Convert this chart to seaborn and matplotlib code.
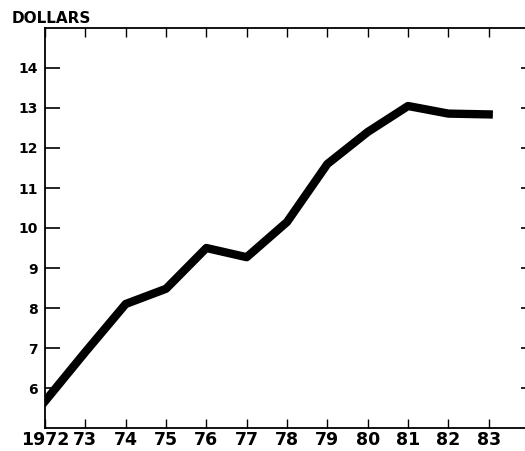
import matplotlib
matplotlib.use("Agg")
import matplotlib.pyplot as plt
import seaborn as sns
import pandas as pd

years = [1972, 1973, 1974, 1975, 1976, 1977, 1978, 1979, 1980, 1981, 1982, 1983]
dollars = [5.67, 6.9, 8.1, 8.48, 9.5, 9.27, 10.15, 11.6, 12.4, 13.05, 12.86, 12.84]
x_tick_labels = ["1972", "73", "74", "75", "76", "77", "78", "79", "80", "81", "82", "83"]
y_ticks = [6, 7, 8, 9, 10, 11, 12, 13, 14]

sns.set_style("white")
plt.rcParams['font.family'] = ['DejaVu Sans']
plt.rcParams['text.color'] = 'black'
plt.rcParams['xtick.color'] = 'black'
plt.rcParams['ytick.color'] = 'black'
plt.rcParams['xtick.labelcolor'] = 'black'
plt.rcParams['ytick.labelcolor'] = 'black'

df = pd.DataFrame({"year": years, "dollars": dollars})

fig = plt.figure(figsize=(5.25, 4.51), dpi=100)
ax = fig.add_axes([45/525, 23/451, 480/525, 400/451])

sns.lineplot(data=df, x="year", y="dollars", ax=ax, color="black",
             linewidth=6.0, solid_joinstyle="round", solid_capstyle="projecting")

ax.set_xlim(1972, 1983.9)
ax.set_ylim(5, 15)
ax.set_xticks(years)
ax.set_xticklabels(x_tick_labels, fontsize=12.5, fontweight="bold", color="black")
ax.set_yticks(y_ticks)
ax.set_yticklabels([str(v) for v in y_ticks], fontsize=10, fontweight="bold", color="black")
ax.set_xlabel("")
ax.set_ylabel("")

for s in ["left", "top", "bottom"]:
    ax.spines[s].set_visible(True)
    ax.spines[s].set_linewidth(1.3)
    ax.spines[s].set_color("black")
ax.spines["right"].set_visible(False)

ax.tick_params(axis="x", which="both", direction="in", top=True, bottom=True,
               length=6.5, width=1.0, color="black", pad=2)
ax.tick_params(axis="y", which="both", direction="in", left=True, right=True,
               width=1.2, color="black", pad=5)
ax.yaxis.set_tick_params(which="major", length=11)
for t in ax.yaxis.get_major_ticks():
    t.tick2line.set_markersize(3)

fig.text(12/525, 1 - 23/451, "DOLLARS", fontsize=11, fontweight="bold",
         color="black", ha="left", va="baseline")

fig.savefig("out.png", dpi=100)
